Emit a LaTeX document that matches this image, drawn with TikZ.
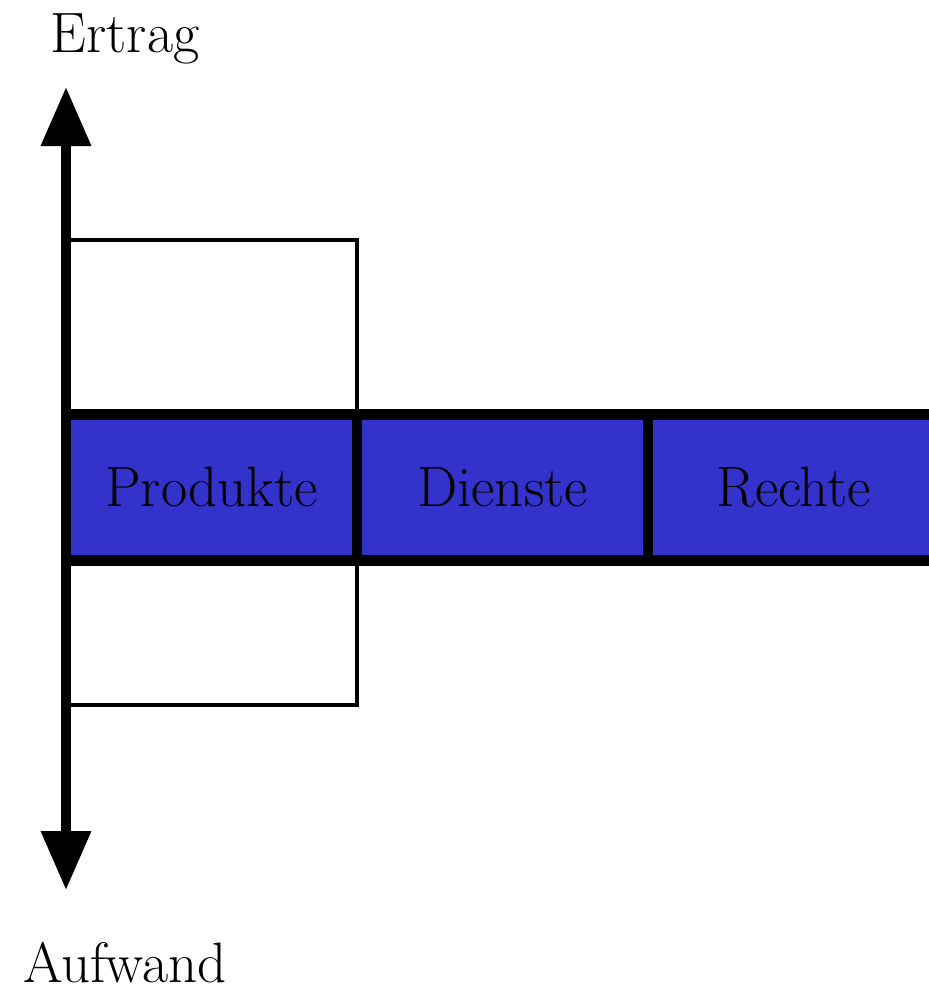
\documentclass[tikz,border=0pt]{standalone}
\usetikzlibrary{arrows.meta}
\definecolor{bandblue}{RGB}{51,51,204}
\begin{document}
\begin{tikzpicture}[x=1pt,y=-1pt,
  lbl/.style={font=\fontsize{57}{64}\selectfont, inner sep=0pt},
  cell/.style={lbl, fill=bandblue, minimum width=291pt, minimum height=145.5pt, anchor=center},
  outline/.style={draw=black, line width=3.5pt, minimum width=291pt, minimum height=465pt, inner sep=0pt},
  border/.style={line width=11pt},
  divider/.style={line width=10pt},
  axis/.style={line width=10pt, {Triangle[width=48pt,length=59pt]}-{Triangle[width=48pt,length=59pt]}}]
\useasboundingbox (0,0) rectangle (929,991);
% outline box behind the band
\node[outline] (box) at (211.5,472.5) {};
% band cells
\node[cell] (prod) at (211.5,487.25) {Produkte};
\node[cell] (dien) at (502.5,487.25) {Dienste};
\node[cell] (recht) at (793.5,487.25) {Rechte};
% band borders and dividers
\draw[border] (prod.north west) -- (recht.north east);
\draw[border] (prod.south west) -- (recht.south east);
\draw[divider] (prod.north east) -- (prod.south east);
\draw[divider] (dien.north east) -- (dien.south east);
% axis
\coordinate (top) at (66,87);
\coordinate (bot) at (66,890);
\draw[axis] (bot) -- (top);
% labels
\node[lbl, anchor=base] (ertrag) at (125,52) {Ertrag};
\node[lbl, anchor=base] (aufwand) at (125,982) {Aufwand};
\end{tikzpicture}
\end{document}
